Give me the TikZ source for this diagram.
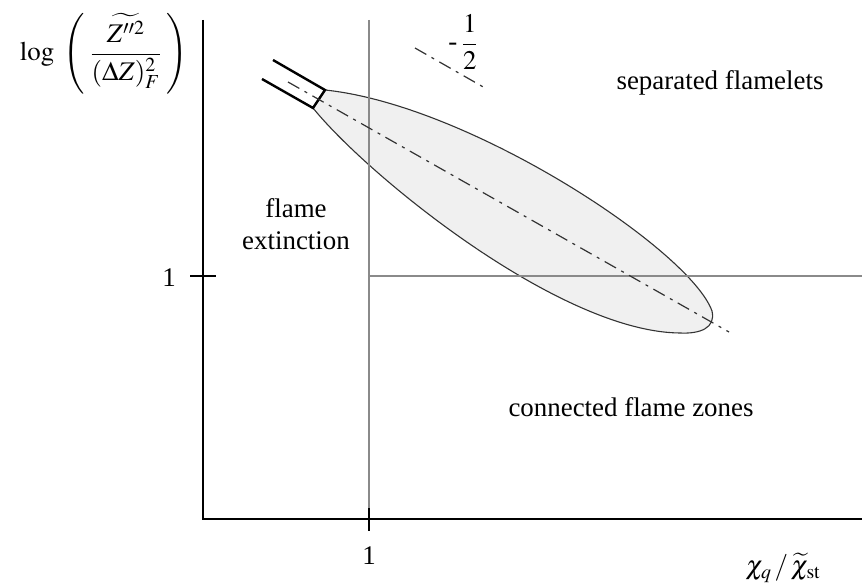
\documentclass[tikz,border=0pt]{standalone}
\usepackage{mathptmx}
\usepackage[no-math]{fontspec}
\setmainfont{Liberation Serif}
\usepackage{amsmath}
\definecolor{fillgray}{HTML}{F0F0F0}
\definecolor{linegray}{HTML}{8A8A8A}
\definecolor{edgegray}{HTML}{333333}
\begin{document}
\begin{tikzpicture}[x=1bp,y=-1bp,
  lbl/.style={font=\fontsize{27}{32}\selectfont, inner sep=0pt, align=center},
  axisline/.style={line width=1.8bp, black},
  guide/.style={line width=1.3bp, linegray},
  dashdot/.style={line width=1.2bp, edgegray, dash pattern=on 13bp off 6bp on 3bp off 6bp},
  tube/.style={line width=2.4bp, black}]
\useasboundingbox (0,0) rectangle (862,584);
% coordinates
\coordinate (O) at (203,519);
\coordinate (Ytop) at (203,20);
\coordinate (Xend) at (862,519);
\coordinate (Vtop) at (369,20);
\coordinate (Vbot) at (369,519);
\coordinate (Hl) at (369,276);
\coordinate (Hr) at (862,276);
\coordinate (YtA) at (190,276);
\coordinate (YtB) at (216,276);
\coordinate (XtA) at (369,508);
\coordinate (XtB) at (369,531);
% tube corners
\coordinate (T1a) at (273,60);
\coordinate (T1b) at (325,90);
\coordinate (T2a) at (262,79);
\coordinate (T2b) at (313,108);
\coordinate (Tip) at (712,311);
\coordinate (Bot) at (680,333);
% teardrop
\filldraw[fill=fillgray, draw=edgegray, line width=1.1bp]
  (T1b) .. controls (470,105) and (690,250) .. (Tip)
  .. controls (716,328) and (700,334) .. (Bot)
  .. controls (560,332) and (368,176) .. (T2b) -- cycle;
% guide lines
\draw[guide] (Vtop) -- (Vbot);
\draw[guide] (Hl) -- (Hr);
% axes
\draw[axisline] (Ytop) -- (O) -- (Xend);
\draw[axisline] (YtA) -- (YtB);
\draw[axisline] (XtA) -- (XtB);
% tube
\draw[tube] (T1a) -- (T1b) -- (T2b) -- (T2a);
% axis of symmetry
\coordinate (Da) at (288,82);
\coordinate (Db) at (729,332);
\draw[dashdot] (Da) -- (Db);
% slope indicator
\coordinate (Sa) at (415,48);
\coordinate (Sb) at (485,88);
\draw[dashdot] (Sa) -- (Sb);
\node[lbl] (slope) at (463,42) {-\,$\dfrac{1}{2}$};
% labels
\node[lbl] (sep) at (720,83) {separated flamelets};
\node[lbl] (ext) at (296,224) {flame\\extinction};
\node[lbl] (con) at (631,407) {connected flame zones};
\node[lbl] (one y) at (169,278) {1};
\node[lbl] (one x) at (369,556) {1};
\node[lbl] (xl) at (783,568) {$\chi_q\,/\,\widetilde{\chi}_{\mathrm{st}}$};
\node[lbl] (yl) at (104,54) {$\log\;\left(\;\vrule height 36bp depth 34bp width 0pt\dfrac{\widetilde{Z''^2}}{(\Delta Z)^2_F}\;\right)$};
\end{tikzpicture}
\end{document}
